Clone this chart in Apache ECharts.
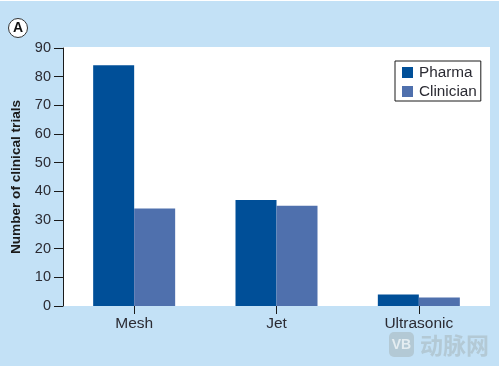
<!DOCTYPE html>
<html>
<head>
<meta charset="utf-8">
<style>
  html, body { margin: 0; padding: 0; background: #fff; }
  #chart { position: absolute; left: 0; top: 1px; width: 499px; height: 365px; }
</style>
<script src="https://cdn.jsdelivr.net/npm/echarts@6/dist/echarts.min.js"></script>
</head>
<body>
<div id="chart"></div>
<script>
var categories = ['Mesh', 'Jet', 'Ultrasonic']
var pharma = [84, 37, 4]
var clinician = [34, 35, 3]

var font = '"Liberation Sans", Arial, sans-serif'
var textColor = '#2b2b33'

var chart = echarts.init(document.getElementById('chart'), null, { renderer: 'canvas' })
chart.setOption({
  animation: false,
  backgroundColor: '#c3e1f6',
  textStyle: { fontFamily: font },
  grid: {
    show: true,
    backgroundColor: '#fff',
    borderWidth: 0,
    left: 63,
    right: 9,
    top: 47,
    height: 258
  },
  legend: {
    left: 395,
    top: 60,
    orient: 'vertical',
    icon: 'rect',
    itemWidth: 11,
    itemHeight: 11,
    itemGap: 4,
    padding: [4, 4, 2, 7],
    borderColor: '#1a1a1a',
    borderWidth: 1,
    backgroundColor: '#fff',
    textStyle: { fontSize: 15.3, color: textColor, padding: [0, 0, 0, 1] },
    data: ['Pharma', 'Clinician']
  },
  xAxis: {
    type: 'category',
    data: categories,
    axisLine: { show: false },
    axisTick: { show: true, alignWithLabel: true, length: 8, lineStyle: { color: '#1a1a1a' } },
    axisLabel: { fontSize: 15.5, color: textColor, margin: 10 }
  },
  yAxis: {
    type: 'value',
    min: 0,
    max: 90,
    interval: 10,
    name: 'Number of clinical trials',
    nameLocation: 'middle',
    nameGap: 40,
    nameTextStyle: { fontSize: 13.6, fontWeight: 'bold', color: '#1a1a1a' },
    splitLine: { show: false },
    axisLine: { show: true, lineStyle: { color: '#1a1a1a' } },
    axisTick: { show: true, length: 9, lineStyle: { color: '#1a1a1a' } },
    axisLabel: { fontSize: 14.5, color: textColor, margin: 12 }
  },
  series: [
    { name: 'Pharma', type: 'bar', data: pharma, barWidth: 41, barGap: 0, itemStyle: { color: '#004f98' } },
    { name: 'Clinician', type: 'bar', data: clinician, barWidth: 41, barGap: 0, itemStyle: { color: '#4f70ad' } }
  ],
  graphic: [
    // white panel starts a pixel above the 90 tick
    {
      type: 'rect',
      shape: { x: 63, y: 46, width: 427, height: 1 },
      style: { fill: '#fff' }
    },
    // panel label
    {
      type: 'circle',
      shape: { cx: 18, cy: 27, r: 9.5 },
      style: { fill: '#fff', stroke: '#333', lineWidth: 1 }
    },
    {
      type: 'text',
      x: 18,
      y: 27,
      style: { text: 'A', fontFamily: font, fontSize: 14, fontWeight: 'bold', fill: '#111', align: 'center', verticalAlign: 'middle' }
    },
    // watermark
    {
      type: 'rect',
      shape: { x: 389, y: 331, width: 25, height: 25, r: 5 },
      style: { fill: '#b3c9d5' }
    },
    {
      type: 'text',
      x: 401.5,
      y: 344,
      style: { text: 'VB', fontFamily: font, fontSize: 14, fontWeight: 'bold', fill: '#e4edf1', align: 'center', verticalAlign: 'middle' }
    },
    {
      type: 'text',
      x: 420,
      y: 344,
      style: { text: '动脉网', fontFamily: '"Noto Sans CJK SC"', fontSize: 23, fontWeight: 'bold', fill: '#b3c9d5', align: 'left', verticalAlign: 'middle' }
    }
  ]
})
</script>
</body>
</html>
